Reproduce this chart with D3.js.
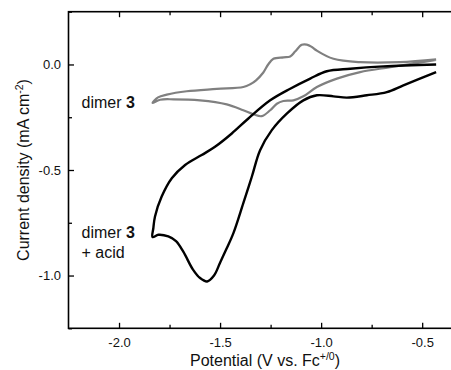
<!DOCTYPE html>
<html>
<head>
<meta charset="utf-8">
<script src="https://cdn.jsdelivr.net/npm/d3@7"></script>
<style>
  body { margin: 0; background: #fff; }
  svg { display: block; font-family: "Liberation Sans", Arial, sans-serif; }
</style>
</head>
<body>
<div id="chart"></div>
<script>
// dimer 3 alone: cathodic sweep (right -> left), then return sweep
const dimerPotential = [-0.431, -0.658, -0.807, -0.922, -1.021, -1.088, -1.137, -1.187, -1.219, -1.252, -1.294, -1.335, -1.385, -1.467, -1.599, -1.731, -1.797, -1.834,
  -1.807, -1.764, -1.665, -1.516, -1.385, -1.351, -1.322, -1.286, -1.262, -1.236, -1.186, -1.153, -1.129, -1.096, -1.071, -1.046, -1.022, -0.939, -0.807, -0.609, -0.431];
const dimerCurrent = [0.021, -0.013, -0.036, -0.067, -0.107, -0.151, -0.170, -0.173, -0.186, -0.217, -0.245, -0.236, -0.217, -0.189, -0.170, -0.165, -0.167, -0.182,
  -0.156, -0.143, -0.127, -0.116, -0.107, -0.094, -0.075, -0.038, 0.000, 0.027, 0.034, 0.038, 0.061, 0.093, 0.094, 0.083, 0.066, 0.027, 0.011, 0.011, 0.024];

// dimer 3 + acid
const acidPotential = [-0.431, -0.593, -0.675, -0.774, -0.873, -0.939, -1.021, -1.088, -1.170, -1.244, -1.302, -1.343, -1.385, -1.434, -1.470, -1.500, -1.530, -1.564, -1.599, -1.634, -1.682, -1.718, -1.756, -1.805, -1.834,
  -1.830, -1.822, -1.789, -1.739, -1.673, -1.591, -1.525, -1.442, -1.360, -1.252, -1.153, -1.054, -0.972, -0.856, -0.692, -0.431];
const acidCurrent = [-0.036, -0.099, -0.131, -0.146, -0.157, -0.151, -0.146, -0.170, -0.233, -0.311, -0.406, -0.532, -0.657, -0.799, -0.877, -0.939, -1.000, -1.028, -1.012, -0.972, -0.887, -0.837, -0.815, -0.807, -0.818,
  -0.774, -0.720, -0.626, -0.539, -0.476, -0.429, -0.390, -0.327, -0.256, -0.170, -0.115, -0.067, -0.032, -0.020, -0.009, 0.000];

const xTicks = [-2.0, -1.5, -1.0, -0.5];
const xTickLabels = ["-2.0", "-1.5", "-1.0", "-0.5"];
const xMinor = [-1.75, -1.25, -0.75];
const yTicks = [0.0, -0.5, -1.0];
const yTickLabels = ["0.0", "-0.5", "-1.0"];
const yMinor = [0.25, -0.25, -0.75, -1.25];

const width = 451, height = 370;
const plotLeft = 68.5, plotRight = 452.5, plotTop = 11.7, plotBottom = 328.3;

const svg = d3.select('#chart').append('svg')
  .attr('width', width)
  .attr('height', height);

const x = d3.scaleLinear().domain([-2.25, -0.35]).range([plotLeft, plotRight]);
const y = d3.scaleLinear().domain([-1.25, 0.25]).range([plotBottom, plotTop]);

const line = d3.line()
  .x(d => x(d[0]))
  .y(d => y(d[1]))
  .curve(d3.curveCatmullRom.alpha(0.5));

const dimerPts = dimerPotential.map((v, i) => [v, dimerCurrent[i]]);
const acidPts = acidPotential.map((v, i) => [v, acidCurrent[i]]);

svg.append('path')
  .attr('d', line(dimerPts))
  .attr('fill', 'none')
  .attr('stroke', '#808080')
  .attr('stroke-width', 2.2)
  .attr('stroke-linejoin', 'round');

svg.append('path')
  .attr('d', line(acidPts))
  .attr('fill', 'none')
  .attr('stroke', '#000')
  .attr('stroke-width', 2.4)
  .attr('stroke-linejoin', 'round');

// axes, ticks point inward
function styleAxis(g) {
  g.select('.domain').remove();
  g.selectAll('line').attr('stroke', '#000').attr('stroke-width', 1.3);
  g.selectAll('text').attr('font-size', 13).attr('fill', '#111');
}

svg.append('g')
  .attr('transform', `translate(0,${plotBottom})`)
  .call(d3.axisBottom(x).tickValues(xTicks).tickSize(-5.5).tickPadding(9)
    .tickFormat((d, i) => xTickLabels[i]))
  .call(styleAxis);
svg.append('g')
  .attr('transform', `translate(0,${plotBottom})`)
  .call(d3.axisBottom(x).tickValues(xMinor).tickSize(-3.5).tickFormat(''))
  .call(styleAxis);
svg.append('g')
  .attr('transform', `translate(0,${plotTop})`)
  .call(d3.axisTop(x).tickValues(xTicks).tickSize(-5.5).tickFormat(''))
  .call(styleAxis);
svg.append('g')
  .attr('transform', `translate(0,${plotTop})`)
  .call(d3.axisTop(x).tickValues(xMinor).tickSize(-3.5).tickFormat(''))
  .call(styleAxis);

svg.append('g')
  .attr('transform', `translate(${plotLeft},0)`)
  .call(d3.axisLeft(y).tickValues(yTicks).tickSize(-5.5).tickPadding(7.5)
    .tickFormat((d, i) => yTickLabels[i]))
  .call(styleAxis);
svg.append('g')
  .attr('transform', `translate(${plotLeft},0)`)
  .call(d3.axisLeft(y).tickValues(yMinor).tickSize(-3.5).tickFormat(''))
  .call(styleAxis);

svg.append('rect')
  .attr('x', plotLeft).attr('y', plotTop)
  .attr('width', plotRight - plotLeft).attr('height', plotBottom - plotTop)
  .attr('fill', 'none')
  .attr('stroke', '#000')
  .attr('stroke-width', 1.6);

// axis titles
const xt = svg.append('text')
  .attr('x', 265).attr('y', 365.5)
  .attr('text-anchor', 'middle')
  .attr('font-size', 16)
  .attr('fill', '#111');
xt.append('tspan').text('Potential (V vs. Fc');
xt.append('tspan').attr('dy', -6).attr('font-size', 10.5).text('+/0');
xt.append('tspan').attr('dy', 6).text(')');

const yt = svg.append('text')
  .attr('transform', `translate(28.5,${(plotTop + plotBottom) / 2}) rotate(-90)`)
  .attr('text-anchor', 'middle')
  .attr('font-size', 16)
  .attr('fill', '#111');
yt.append('tspan').text('Current density (mA cm');
yt.append('tspan').attr('dy', -6).attr('font-size', 10.5).text('-2');
yt.append('tspan').attr('dy', 6).text(')');

// curve labels
function label(xp, yp, lines) {
  const t = svg.append('text').attr('x', xp).attr('y', yp)
    .attr('font-size', 16).attr('fill', '#111');
  lines.forEach((parts, i) => {
    parts.forEach((p, j) => {
      const s = t.append('tspan').text(p.t);
      if (j === 0) s.attr('x', xp).attr('dy', i === 0 ? 0 : 20);
      if (p.b) s.attr('font-weight', 'bold');
    });
  });
}
label(81.5, 108.3, [[{ t: 'dimer ' }, { t: '3', b: true }]]);
label(81.5, 238, [[{ t: 'dimer ' }, { t: '3', b: true }], [{ t: '+ acid' }]]);
</script>
</body>
</html>
